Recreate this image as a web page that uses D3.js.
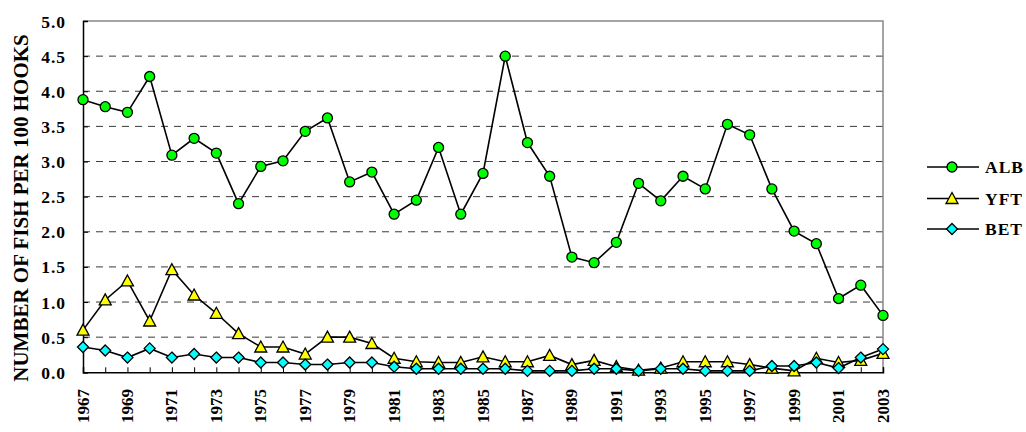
<html>
<head>
<script src="https://d3js.org/d3.v7.min.js"></script>
<style>
body { margin: 0; background: #fff; }
svg text { font-family: 'Liberation Serif', 'DejaVu Serif', 'Times New Roman', Times, serif; font-weight: bold; fill: #000; }
</style>
</head>
<body>
<svg id="chart" width="1026" height="432"></svg>
<script>
// categories
var years = [1967,1968,1969,1970,1971,1972,1973,1974,1975,1976,1977,1978,1979,1980,1981,1982,1983,1984,1985,
             1986,1987,1988,1989,1990,1991,1992,1993,1994,1995,1996,1997,1998,1999,2000,2001,2002,2003];
var yearLabels = [1967,1969,1971,1973,1975,1977,1979,1981,1983,1985,1987,1989,1991,1993,1995,1997,1999,2001,2003];
var yTicks = [0,0.5,1,1.5,2,2.5,3,3.5,4,4.5,5];

// series values (fish per 100 hooks)
var alb = [3.88,3.78,3.70,4.21,3.09,3.33,3.12,2.40,2.93,3.01,3.43,3.62,2.71,2.85,2.25,2.45,3.20,2.25,2.83,
           4.50,3.27,2.79,1.64,1.56,1.85,2.69,2.44,2.79,2.61,3.53,3.38,2.61,2.01,1.83,1.05,1.24,0.81];
var yft = [0.60,1.03,1.30,0.73,1.46,1.10,0.84,0.55,0.36,0.36,0.26,0.50,0.50,0.41,0.20,0.15,0.14,0.14,0.22,
           0.15,0.15,0.24,0.11,0.17,0.08,0.03,0.06,0.15,0.15,0.15,0.11,0.06,0.02,0.20,0.14,0.17,0.27];
var bet = [0.36,0.31,0.21,0.34,0.21,0.26,0.21,0.21,0.14,0.14,0.11,0.11,0.14,0.14,0.08,0.05,0.05,0.05,0.05,
           0.05,0.02,0.02,0.02,0.05,0.05,0.02,0.05,0.05,0.02,0.02,0.02,0.09,0.09,0.14,0.06,0.21,0.33];

var seriesNames = ["ALB","YFT","BET"];

var plotL = 83, plotR = 883, plotT = 21, plotB = 372.3;

var svg = d3.select("#chart");

var x = d3.scalePoint().domain(years).range([plotL, plotR]);
var y = d3.scaleLinear().domain([0, 5]).range([plotB, plotT]);

// dashed gridlines
svg.append("g")
  .selectAll("line")
  .data(yTicks.filter(function(d) { return d > 0 && d < 5; }))
  .enter().append("line")
  .attr("x1", plotL).attr("x2", plotR)
  .attr("y1", function(d) { return y(d); })
  .attr("y2", function(d) { return y(d); })
  .attr("stroke", "#3a3a3a")
  .attr("stroke-width", 1)
  .attr("stroke-dasharray", "7,6");

// top and right border
svg.append("path")
  .attr("d", "M" + plotL + "," + plotT + "H" + plotR + "V" + plotB)
  .attr("fill", "none")
  .attr("stroke", "#888")
  .attr("stroke-width", 1.5);

// y axis
var yAxis = d3.axisRight(y).tickValues(yTicks).tickSize(5).tickFormat("");
svg.append("g")
  .attr("transform", "translate(" + plotL + ",0)")
  .call(yAxis)
  .call(function(g) {
    g.select(".domain").attr("stroke", "#000").attr("stroke-width", 1.5);
    g.selectAll(".tick line").attr("stroke", "#000").attr("stroke-width", 1);
  });

svg.append("g")
  .selectAll("text")
  .data(yTicks)
  .enter().append("text")
  .attr("x", 66)
  .attr("y", function(d) { return y(d) + 6.5; })
  .attr("text-anchor", "end")
  .attr("font-size", 17.5)
  .attr("letter-spacing", 1)
  .text(function(d) { return d3.format(".1f")(d); });

// x axis
var xAxis = d3.axisTop(x).tickSize(5).tickFormat("");
svg.append("g")
  .attr("transform", "translate(0," + plotB + ")")
  .call(xAxis)
  .call(function(g) {
    g.select(".domain").attr("stroke", "#000").attr("stroke-width", 1.5);
    g.selectAll(".tick line").attr("stroke", "#000").attr("stroke-width", 1);
  });

svg.append("g")
  .selectAll("text")
  .data(yearLabels)
  .enter().append("text")
  .attr("transform", function(d) { return "translate(" + (x(d) + 5.5) + ",389) rotate(-90)"; })
  .attr("text-anchor", "end")
  .attr("font-size", 17)
  .text(function(d) { return d; });

// y axis title
svg.append("text")
  .attr("transform", "translate(28,208) rotate(-90)")
  .attr("text-anchor", "middle")
  .attr("font-size", 21)
  .text("NUMBER OF FISH PER 100 HOOKS");

// markers
function drawMarker(g, type, cx, cy) {
  if (type === "ALB") {
    g.append("circle").attr("cx", cx).attr("cy", cy).attr("r", 5)
      .attr("fill", "#00ff00").attr("stroke", "#000").attr("stroke-width", 1.3);
  } else if (type === "YFT") {
    g.append("path")
      .attr("d", "M" + cx + "," + (cy - 6) + "L" + (cx + 6) + "," + (cy + 5) + "L" + (cx - 6) + "," + (cy + 5) + "Z")
      .attr("fill", "#ffff00").attr("stroke", "#000").attr("stroke-width", 1.3);
  } else {
    g.append("path")
      .attr("d", "M" + cx + "," + (cy - 5.5) + "L" + (cx + 5.5) + "," + cy + "L" + cx + "," + (cy + 5.5) + "L" + (cx - 5.5) + "," + cy + "Z")
      .attr("fill", "#00ffff").attr("stroke", "#000").attr("stroke-width", 1.3);
  }
}

var line = d3.line()
  .x(function(d, i) { return x(years[i]); })
  .y(function(d) { return y(d); });

var allSeries = [alb, yft, bet];
allSeries.forEach(function(vals, k) {
  var g = svg.append("g");
  g.append("path")
    .attr("d", line(vals))
    .attr("fill", "none")
    .attr("stroke", "#000")
    .attr("stroke-width", 1.6);
  vals.forEach(function(v, i) {
    drawMarker(g, seriesNames[k], x(years[i]), y(v));
  });
});

// legend
var legendY = [167, 198.5, 229];
seriesNames.forEach(function(name, k) {
  var g = svg.append("g");
  g.append("line")
    .attr("x1", 927).attr("x2", 979)
    .attr("y1", legendY[k]).attr("y2", legendY[k])
    .attr("stroke", "#000").attr("stroke-width", 1.6);
  drawMarker(g, name, 952, legendY[k]);
  g.append("text")
    .attr("x", 985)
    .attr("y", legendY[k] + 6)
    .attr("font-size", 17.5)
    .attr("letter-spacing", 1)
    .text(name);
});
</script>
</body>
</html>
